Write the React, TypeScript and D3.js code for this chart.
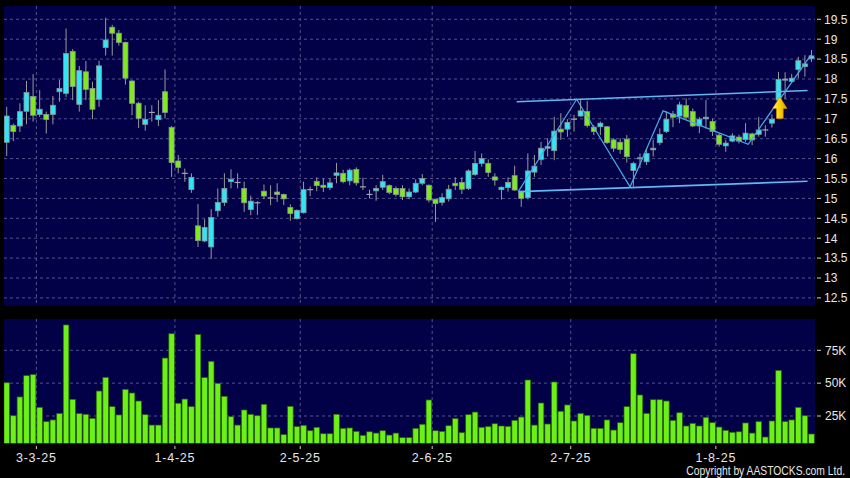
import React from 'react';
import * as d3 from 'd3';

const W = 850;
const H = 478;

// ---- data ----
const openP = [16.41, 16.83, 16.82, 17.19, 17.56, 17.11, 17.11, 17.11, 17.68, 17.64, 18.69, 17.36, 18.18, 17.76, 17.49, 18.79, 19.30, 19.15, 18.92, 17.95, 17.39, 16.86, 17.16, 16.98, 17.68, 16.78, 15.94, 15.63, 15.22, 14.31, 13.93, 13.78, 14.69, 14.90, 15.42, 15.40, 15.25, 14.72, 14.89, 15.18, 15.01, 15.16, 15.10, 14.77, 14.49, 14.64, 15.22, 15.43, 15.33, 15.27, 15.58, 15.63, 15.44, 15.73, 15.29, 15.10, 15.19, 15.28, 15.32, 15.25, 15.25, 15.04, 15.16, 15.38, 15.33, 14.98, 14.90, 14.99, 15.38, 15.40, 15.25, 15.60, 15.88, 15.88, 15.54, 15.22, 15.27, 15.57, 15.17, 15.02, 15.66, 15.98, 16.26, 16.20, 16.74, 16.74, 16.99, 17.07, 17.18, 16.79, 16.80, 16.80, 16.47, 16.41, 16.49, 15.70, 16.00, 15.92, 16.22, 16.40, 16.68, 17.12, 17.07, 17.33, 17.18, 16.82, 17.00, 16.93, 16.59, 16.32, 16.44, 16.54, 16.48, 16.62, 16.61, 16.72, 16.89, 17.47, 17.97, 17.94, 18.24, 18.31, 18.51];
const highP = [17.30, 16.88, 17.39, 17.95, 18.12, 17.72, 17.18, 17.57, 17.97, 19.27, 18.75, 18.33, 18.45, 17.93, 18.46, 19.54, 19.36, 19.23, 18.94, 17.97, 17.43, 17.34, 17.34, 17.47, 18.24, 16.82, 16.09, 15.75, 15.63, 14.86, 14.48, 14.73, 15.25, 15.63, 15.73, 15.63, 15.42, 15.07, 14.93, 15.35, 15.33, 15.38, 15.12, 14.85, 14.72, 15.42, 15.30, 15.53, 15.50, 15.50, 15.89, 15.72, 15.75, 15.78, 15.52, 15.22, 15.33, 15.59, 15.35, 15.30, 15.33, 15.25, 15.48, 15.61, 15.35, 14.99, 15.13, 15.34, 15.53, 15.53, 15.73, 16.19, 16.13, 15.98, 15.63, 15.30, 15.53, 15.82, 15.19, 16.13, 16.09, 16.42, 16.51, 17.05, 17.14, 16.99, 17.10, 17.47, 17.45, 16.84, 16.93, 16.82, 16.51, 16.51, 16.59, 15.92, 16.13, 16.26, 16.47, 16.76, 17.19, 17.20, 17.43, 17.51, 17.26, 17.04, 17.47, 17.00, 16.64, 16.47, 16.64, 16.60, 16.89, 16.65, 17.05, 16.84, 17.11, 18.18, 18.17, 18.13, 18.56, 18.60, 18.73];
const lowP = [16.07, 16.44, 16.67, 16.86, 16.93, 17.05, 16.63, 16.86, 17.43, 17.55, 17.47, 17.18, 17.47, 16.99, 17.30, 18.59, 18.59, 18.84, 17.86, 17.09, 16.77, 16.70, 16.93, 16.82, 17.01, 15.54, 15.63, 15.42, 15.14, 13.78, 13.90, 13.48, 14.54, 14.81, 15.25, 15.25, 14.66, 14.58, 14.58, 14.98, 14.83, 14.91, 14.83, 14.44, 14.47, 14.62, 15.06, 15.18, 15.16, 15.21, 15.38, 15.38, 15.33, 15.32, 15.21, 15.00, 14.94, 15.21, 15.10, 15.05, 14.96, 14.98, 15.13, 15.33, 14.90, 14.41, 14.82, 14.92, 15.21, 15.11, 15.21, 15.57, 15.80, 15.54, 15.32, 14.97, 15.17, 15.19, 14.79, 14.98, 15.54, 15.84, 16.05, 15.96, 16.47, 16.55, 16.68, 17.05, 16.78, 16.59, 16.59, 16.37, 16.17, 16.12, 15.90, 15.30, 15.76, 15.84, 16.05, 16.34, 16.64, 16.79, 16.89, 16.99, 16.79, 16.64, 16.76, 16.57, 16.30, 16.17, 16.41, 16.38, 16.42, 16.34, 16.55, 16.55, 16.78, 17.43, 17.50, 17.90, 18.02, 18.06, 18.43];
const closeP = [17.07, 16.68, 17.18, 17.66, 17.09, 17.24, 16.98, 17.34, 17.76, 18.64, 17.81, 18.21, 17.74, 17.24, 18.33, 18.98, 19.15, 18.92, 18.02, 17.39, 17.01, 16.98, 17.16, 17.09, 17.16, 15.90, 15.78, 15.63, 15.53, 13.94, 14.27, 14.52, 14.90, 15.25, 15.48, 15.40, 14.89, 14.93, 14.89, 15.06, 15.01, 15.10, 14.99, 14.62, 14.70, 15.22, 15.22, 15.32, 15.28, 15.39, 15.64, 15.42, 15.71, 15.39, 15.29, 15.10, 15.25, 15.42, 15.15, 15.10, 15.04, 15.16, 15.38, 15.50, 14.96, 14.87, 15.02, 15.23, 15.32, 15.23, 15.69, 15.88, 16.00, 15.65, 15.46, 15.28, 15.40, 15.21, 15.00, 15.69, 15.81, 16.26, 16.30, 16.69, 16.67, 16.91, 16.99, 17.20, 16.83, 16.68, 16.89, 16.40, 16.26, 16.23, 16.05, 15.88, 16.02, 16.13, 16.26, 16.61, 16.99, 17.04, 17.35, 17.04, 16.82, 16.99, 17.04, 16.68, 16.36, 16.39, 16.57, 16.44, 16.64, 16.47, 16.72, 16.72, 16.99, 17.99, 18.00, 18.02, 18.46, 18.38, 18.58];
const volumeK = [50.3, 25.2, 39.5, 55.7, 56.5, 31.6, 20.7, 22, 27, 94.3, 37.7, 26.8, 26.3, 23.2, 44, 54.4, 32.1, 25.8, 45.3, 42.5, 36.4, 26, 18.1, 18.1, 69.1, 87.6, 34.7, 37.9, 32.1, 87.1, 54.2, 66.6, 49.9, 40, 24.5, 18.1, 29.6, 26.3, 25.2, 33.9, 15.9, 15.9, 10.8, 32.4, 16.9, 17.9, 13.8, 16.4, 11.5, 11.5, 26.3, 15.6, 15.9, 13.3, 10.3, 13, 12, 13.8, 10.5, 12, 8.5, 8.5, 15.6, 18.7, 37.2, 13.8, 13.3, 17.6, 23, 12.3, 26, 28, 16.4, 16.9, 19.1, 17.4, 17.1, 21.7, 24.2, 52.4, 18.1, 34.9, 18.9, 50.9, 28.6, 33.4, 21.2, 27, 25.5, 15.6, 15.6, 22, 14.3, 19.9, 32.1, 72.4, 41, 27, 37.4, 37.4, 36.4, 21.7, 27.5, 17.4, 19.4, 17.4, 24, 19.9, 16.6, 14.1, 12.6, 13, 19.7, 12, 20.7, 9, 21.2, 59.7, 20.7, 22, 31.6, 25.2, 11.3];

const monthLabels = ['3-3-25', '1-4-25', '2-5-25', '2-6-25', '2-7-25', '1-8-25'];
const monthStartIdx = [5, 26, 45, 65, 86, 108];
const priceTicks = [12.5, 13, 13.5, 14, 14.5, 15, 15.5, 16, 16.5, 17, 17.5, 18, 18.5, 19, 19.5];
const volTicks = [25, 50, 75];
const volTickLabels = ['25K', '50K', '75K'];

const zigzag = [
  { i: 77.55, p: 15.17 },
  { i: 86.4, p: 17.49 },
  { i: 94.5, p: 15.29 },
  { i: 99.5, p: 17.2 },
  { i: 112.4, p: 16.36 },
  { i: 121.9, p: 18.6 },
];
const channelUpper = [
  { i: 77.3, p: 17.43 },
  { i: 121.4, p: 17.71 },
];
const channelLower = [
  { i: 77.6, p: 15.17 },
  { i: 121.4, p: 15.43 },
];
const arrowPoint = { i: 117.2, p: 17.55 };

// ---- layout ----
const panelL = 4;
const panelR = 815;
const priceTop = 6;
const priceBot = 306;
const volTop = 319;
const volBot = 443.3;

const FONT = "'Liberation Sans', Arial, sans-serif";
const TEXT = '#e6e6e6';
const PANEL = '#020046';
const GRID = '#52528c';
const UP = '#33e4f2';
const DOWN = '#7fea1e';

export default function App() {
  const n = openP.length;
  const x = d3.scaleLinear().domain([0, n - 1]).range([6.7, 811.5]);
  const yP = d3.scaleLinear().domain([12.5, 19.5]).range([297.9, 19.3]);
  const yV = d3.scaleLinear().domain([0, 75]).range([448.85, 350.3]);
  const bodyW = 5;
  const barW = 5.6;

  const line = d3
    .line<{ i: number; p: number }>()
    .x((d) => x(d.i))
    .y((d) => yP(d.p));

  const ax = x(arrowPoint.i);
  const ay = yP(arrowPoint.p);
  const arrowPts = [
    [0, 0],
    [7.2, 11.6],
    [3.4, 11.6],
    [3.4, 21.6],
    [-3.4, 21.6],
    [-3.4, 11.6],
    [-7.2, 11.6],
  ]
    .map(([dx, dy]) => `${ax + dx},${ay + dy}`)
    .join(' ');

  return (
    <svg
      width={W}
      height={H}
      viewBox={`0 0 ${W} ${H}`}
      style={{ position: 'absolute', left: 0, top: 0, display: 'block' }}
    >
      <defs>
        <clipPath id="clipPrice">
          <rect x={panelL} y={priceTop} width={panelR - panelL} height={priceBot - priceTop} />
        </clipPath>
        <clipPath id="clipVol">
          <rect x={panelL} y={volTop} width={panelR - panelL} height={volBot - volTop} />
        </clipPath>
        <linearGradient id="arrowGrad" x1="0" x2="1" y1="0" y2="0">
          <stop offset="0" stopColor="#fff59a" />
          <stop offset="0.45" stopColor="#ffd400" />
          <stop offset="1" stopColor="#e09a00" />
        </linearGradient>
      </defs>
      <rect x={0} y={0} width={W} height={H} fill="#000" />

      {/* price panel */}
      <rect x={panelL} y={priceTop} width={panelR - panelL} height={priceBot - priceTop} fill={PANEL} />
      <g clipPath="url(#clipPrice)">
        {priceTicks.map((t) => (
          <line key={`hp${t}`} x1={panelL} x2={panelR} y1={yP(t)} y2={yP(t)} stroke={GRID} strokeDasharray="3,3" strokeWidth={1} />
        ))}
        {monthStartIdx.map((m) => (
          <line key={`vp${m}`} x1={x(m - 0.5)} x2={x(m - 0.5)} y1={priceTop} y2={priceBot} stroke={GRID} strokeDasharray="3,3" strokeWidth={1} />
        ))}
        {openP.map((o, i) => {
          const c = closeP[i];
          const cx = x(i);
          const top = yP(Math.max(o, c));
          const bot = yP(Math.min(o, c));
          const doji = Math.abs(o - c) < 0.005;
          const fill = c > o ? UP : DOWN;
          return (
            <g key={`c${i}`}>
              <line x1={cx} x2={cx} y1={yP(highP[i])} y2={yP(lowP[i])} stroke="#9a9a9a" strokeWidth={1} />
              {doji ? (
                <line x1={cx - bodyW / 2 - 0.5} x2={cx + bodyW / 2 + 0.5} y1={top} y2={top} stroke="#a8a8a8" strokeWidth={1.2} />
              ) : (
                <rect x={cx - bodyW / 2} y={top} width={bodyW} height={Math.max(bot - top, 1)} fill={fill} stroke="#8a9696" strokeWidth={0.8} />
              )}
            </g>
          );
        })}
        <path d={line(channelUpper) || ''} fill="none" stroke="#62b8f2" strokeWidth={1.6} />
        <path d={line(channelLower) || ''} fill="none" stroke="#62b8f2" strokeWidth={1.6} />
        <path d={line(zigzag) || ''} fill="none" stroke="#4ea8e8" strokeWidth={1.2} />
        <polygon points={arrowPts} fill="url(#arrowGrad)" stroke="#d08a00" strokeWidth={0.6} />
      </g>

      {/* price axis */}
      {priceTicks.map((t) => (
        <g key={`pt${t}`}>
          <line x1={817} x2={821} y1={yP(t)} y2={yP(t)} stroke="#cfcfcf" strokeWidth={1} />
          <text x={824} y={yP(t)} dy="0.36em" fill={TEXT} fontFamily={FONT} fontSize={12}>
            {t}
          </text>
        </g>
      ))}

      {/* volume panel */}
      <rect x={panelL} y={volTop} width={panelR - panelL} height={volBot - volTop} fill={PANEL} />
      <g clipPath="url(#clipVol)">
        {volTicks.map((t) => (
          <line key={`hv${t}`} x1={panelL} x2={panelR} y1={yV(t)} y2={yV(t)} stroke={GRID} strokeDasharray="3,3" strokeWidth={1} />
        ))}
        {monthStartIdx.map((m) => (
          <line key={`vv${m}`} x1={x(m - 0.5)} x2={x(m - 0.5)} y1={volTop} y2={volBot} stroke={GRID} strokeDasharray="3,3" strokeWidth={1} />
        ))}
        {volumeK.map((v, i) => (
          <rect
            key={`v${i}`}
            x={x(i) - barW / 2}
            y={yV(v)}
            width={barW}
            height={volBot + 2 - yV(v)}
            fill="#6cf018"
            stroke="#2a6206"
            strokeWidth={0.7}
          />
        ))}
      </g>
      {volTicks.map((t, k) => (
        <g key={`vt${t}`}>
          <line x1={817} x2={821} y1={yV(t)} y2={yV(t)} stroke="#cfcfcf" strokeWidth={1} />
          <text x={825} y={yV(t)} dy="0.36em" fill={TEXT} fontFamily={FONT} fontSize={12}>
            {volTickLabels[k]}
          </text>
        </g>
      ))}

      {/* date axis */}
      {monthStartIdx.map((m, k) => (
        <g key={`dt${m}`}>
          <line x1={x(m - 0.5)} x2={x(m - 0.5)} y1={446} y2={449} stroke="#cfcfcf" strokeWidth={1} />
          <text
            x={x(m - 0.5)}
            y={462}
            textAnchor="middle"
            fill={TEXT}
            fontFamily={FONT}
            fontSize={12.5}
            letterSpacing={0.8}
          >
            {monthLabels[k]}
          </text>
        </g>
      ))}
      <g transform="translate(845,474.5) scale(0.86,1)">
        <text x={0} y={0} textAnchor="end" fill={TEXT} fontFamily={FONT} fontSize={12}>
          Copyright by AASTOCKS.com Ltd.
        </text>
      </g>
    </svg>
  );
}
